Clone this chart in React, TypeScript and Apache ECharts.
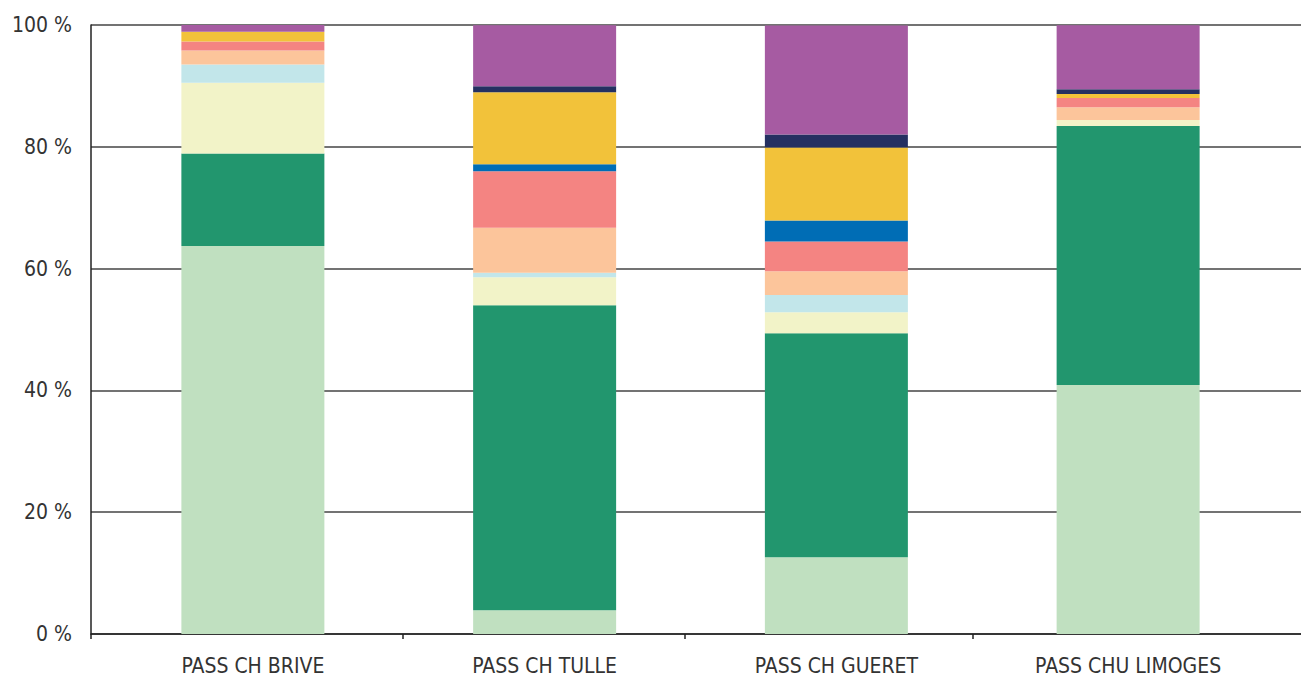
import React, { useEffect, useRef } from "react";
import * as echarts from "echarts";

const categories = ["PASS CH BRIVE", "PASS CH TULLE", "PASS CH GUERET", "PASS CHU LIMOGES"];
const yTicks = [0, 20, 40, 60, 80, 100];

const s1 = [63.7, 3.9, 12.6, 40.9];
const s2 = [15.2, 50.1, 36.8, 42.5];
const s3 = [11.6, 4.6, 3.45, 1.0];
const s4 = [3.0, 0.7, 2.8, 0];
const s5 = [2.3, 7.4, 3.9, 2.1];
const s6 = [1.5, 9.3, 4.9, 1.5];
const s7 = [0, 1.15, 3.45, 0];
const s8 = [1.6, 11.8, 12.0, 0.65];
const s9 = [0, 1.0, 2.1, 0.8];
const s10 = [1.2, 10.0, 17.9, 10.5];

// positions of the category separator ticks along the baseline (0..1210)
const separatorTicks = [0, 312, 594, 882];

const seriesData = [s1, s2, s3, s4, s5, s6, s7, s8, s9, s10];
const colors = ["#c0e0c0", "#22966e", "#f2f3c8", "#c2e6ea", "#fcc59b", "#f48482", "#006db5", "#f2c23a", "#253061", "#a65ba2"];

const FONT = "'DejaVu Sans Condensed', 'Liberation Sans Narrow', sans-serif";

export default function App() {
  const ref = useRef<HTMLDivElement>(null);
  useEffect(() => {
    if (!ref.current) return;
    const chart = echarts.init(ref.current, null, { renderer: "svg" });
    chart.setOption({
      animation: false,
      backgroundColor: "#ffffff",
      grid: [
        { left: 107, right: 27, top: 25, bottom: 44 },
        { left: 91, right: 0, top: 25, bottom: 44 },
      ],
      xAxis: [
        {
          type: "category",
          gridIndex: 0,
          data: categories,
          axisLine: { show: false },
          axisTick: { show: false },
          axisLabel: { color: "#333", fontFamily: FONT, fontSize: 21, margin: 21 },
        },
        {
          type: "value",
          gridIndex: 1,
          min: 0,
          max: 1210,
          axisLine: { show: true, onZero: false, lineStyle: { color: "#222", width: 1.5 } },
          axisTick: { show: true, length: 5, customValues: separatorTicks, lineStyle: { color: "#222", width: 1.5 } },
          axisLabel: { show: false },
          splitLine: { show: false },
        },
      ],
      yAxis: [
        {
          type: "value",
          gridIndex: 0,
          min: 0,
          max: 100,
          interval: 20,
          show: false,
          splitLine: { show: false },
        },
        {
          type: "value",
          gridIndex: 1,
          min: yTicks[0],
          max: yTicks[yTicks.length - 1],
          interval: 20,
          axisLine: { show: true, lineStyle: { color: "#222", width: 1.5 } },
          axisTick: { show: false },
          splitLine: { show: true, lineStyle: { color: "#444", width: 1.5 } },
          axisLabel: {
            color: "#333",
            fontFamily: FONT,
            fontSize: 21,
            margin: 19,
            formatter: (v: number) => `${v} %`,
          },
        },
      ],
      series: seriesData.map((d, i) => ({
        type: "bar",
        stack: "total",
        xAxisIndex: 0,
        yAxisIndex: 0,
        barWidth: 143,
        data: d,
        itemStyle: { color: colors[i] },
        z: 3,
      })),
    });
    return () => chart.dispose();
  }, []);
  return <div ref={ref} style={{ position: "fixed", left: 0, top: 0, width: 1301, height: 678 }} />;
}
